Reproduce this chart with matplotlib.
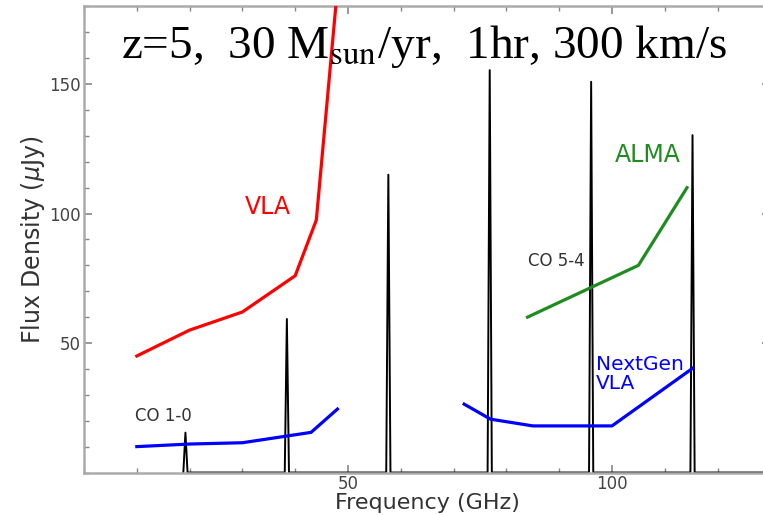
import numpy as np
import matplotlib
matplotlib.use("Agg")
import matplotlib.pyplot as plt
from matplotlib.ticker import MultipleLocator

plt.rcParams['font.family'] = 'DejaVu Sans'
plt.rcParams['mathtext.fontset'] = 'dejavusans'

# CO ladder at z=5 (GHz) and peak flux (uJy)
co_freq = [19.21, 38.42, 57.64, 76.84, 96.05, 115.25]
co_peak = [15.4, 59.3, 115.0, 155.4, 150.9, 130.3]

# sensitivity curves
vla_freq = [10, 20, 30, 40, 44, 48]
vla_flux = [45, 55, 62, 76, 97.5, 187]

ngvla_lo_freq = [10, 20, 30, 43, 48]
ngvla_lo_flux = [10, 11, 11.5, 15.5, 24.5]

ngvla_hi_freq = [72, 77, 85, 100, 115.3]
ngvla_hi_flux = [26.4, 20.6, 18, 18, 40.3]

alma_freq = [84, 105, 114.2]
alma_flux = [60, 80, 110]

fig = plt.figure(figsize=(7.63, 5.15), dpi=100)
ax = fig.add_axes([0.1101, 0.0825, 0.8996, 0.905])

# spectrum: flat baseline with narrow line spikes
hw = 0.4
spec_x = [co_freq[0] - hw]
spec_y = [0]
for f, p in zip(co_freq, co_peak):
    spec_x += [f - hw, f, f + hw]
    spec_y += [0, p, 0]
spec_x.append(130)
spec_y.append(0)
ax.plot(spec_x, spec_y, color='black', lw=1.4, zorder=2)

ax.plot(vla_freq, vla_flux, color='#ff0000', lw=2.3, zorder=3)
ax.plot(ngvla_lo_freq, ngvla_lo_flux, color='#0000ff', lw=2.3, zorder=3)
ax.plot(ngvla_hi_freq, ngvla_hi_flux, color='#0000ff', lw=2.3, zorder=3)
ax.plot(alma_freq, alma_flux, color='#1e8c1e', lw=2.3, zorder=3)

ax.text(34.9, 102.5, 'VLA', color='#ff0000', fontsize=17, ha='center', va='center')
ax.text(106.8, 122.6, 'ALMA', color='#1e8c1e', fontsize=17, ha='center', va='center')
ax.text(97, 45.5, 'NextGen\nVLA', color='#0000ff', fontsize=14.5, ha='left', va='top',
        linespacing=1.05)
ax.text(9.7, 22, 'CO 1-0', color='#333333', fontsize=12, ha='left', va='center')
ax.text(84.1, 81.7, 'CO 5-4', color='#333333', fontsize=12, ha='left', va='center')

ax.set_xlim(0, 130)
ax.set_ylim(0, 180)
ax.xaxis.set_minor_locator(MultipleLocator(10))
ax.yaxis.set_minor_locator(MultipleLocator(10))
ax.set_xticks([50, 100])
ax.set_yticks([50, 100, 150])
ax.tick_params(which='both', direction='in', top=True, right=True,
               color='#888888', labelcolor='#444444', labelsize=12, pad=2)
ax.tick_params(which='major', length=6, width=1.2)
ax.tick_params(which='minor', length=3.5, width=1)
for s in ax.spines.values():
    s.set_color('#aaaaaa')
    s.set_linewidth(1.8)

ax.set_xlabel('Frequency (GHz)', fontsize=16, color='#333333', labelpad=0)
ax.set_ylabel(r'Flux Density ($\mu$Jy)', fontsize=17, color='#333333', labelpad=2)

fig.text(0.555, 1 - 58 / 515, r'z=5,  30 M$_{\rm sun}$/yr,  1hr, 300 km/s',
         fontsize=34, family='Liberation Serif', ha='center', va='baseline',
         math_fontfamily='stix')

fig.savefig('out.png', dpi=100)
